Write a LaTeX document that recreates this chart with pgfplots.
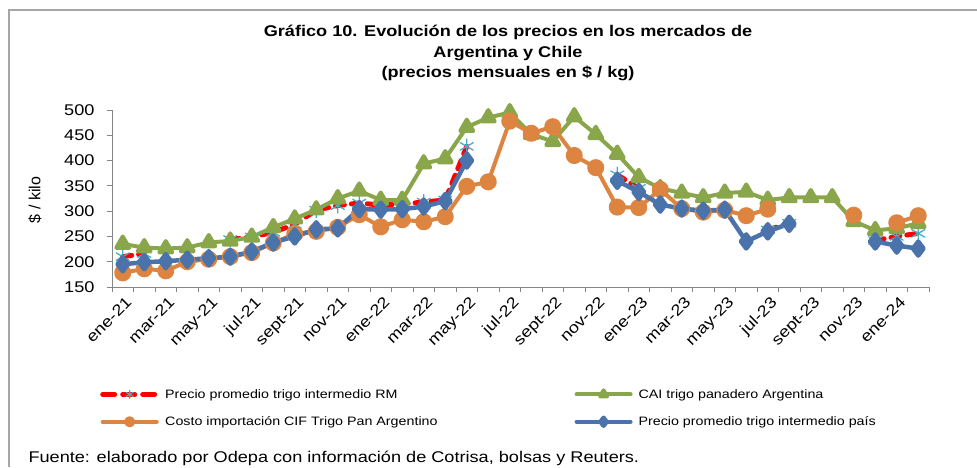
\documentclass[border=0pt]{standalone}
\usepackage{fontspec}
\setmainfont{Liberation Sans}[FakeStretch=1.17]
\newfontfamily\plainfont{Liberation Sans}
\usepackage{pgfplots}
\pgfplotsset{compat=1.18}
\definecolor{cgreen}{HTML}{8AA64A}
\definecolor{corange}{HTML}{DD8440}
\definecolor{cblue}{HTML}{4A73AB}
\definecolor{cast}{HTML}{4BACC6}
\definecolor{cframe}{HTML}{A6A6A6}
\definecolor{axgray}{HTML}{868686}
\begin{document}
\begin{tikzpicture}[x=1pt,y=1pt]
\path[use as bounding box] (0,0) rectangle (977,467);
\draw[cframe, line width=1.5pt] (9,0) -- (9,457) -- (977,457);
\node[align=center, font=\fontsize{15.5}{20.5}\selectfont\bfseries] at (508,414)
  {Gráfico 10. Evolución de los precios en los mercados de\\Argentina y Chile\\(precios mensuales en \$ / kg)};
\node[rotate=90, font=\plainfont\fontsize{16}{19}\selectfont] at (35,267) {\$ / kilo};
\node[anchor=west, font=\fontsize{15.5}{18}\selectfont] at (25,9) {Fuente: elaborado por Odepa con información de Cotrisa, bolsas y Reuters.};
\begin{axis}[
  at={(112pt,180pt)}, anchor=south west,
  scale only axis, width=817pt, height=177pt,
  xmin=-0.5, xmax=37.5, ymin=150, ymax=500,
  axis x line*=bottom, axis y line*=left,
  axis line style={draw=axgray, line width=0.9pt, -},
  xtick={-0.5,0.5,...,37.5},
  x tick label as interval,
  xticklabels={ene-21,,mar-21,,may-21,,jul-21,,sept-21,,nov-21,,ene-22,,mar-22,,may-22,,jul-22,,sept-22,,nov-22,,ene-23,,mar-23,,may-23,,jul-23,,sept-23,,nov-23,,ene-24,},
  ytick={150,200,...,500},
  tick align=outside, major tick length=5pt,
  tick style={draw=axgray, line width=0.9pt},
  /pgf/number format/assume math mode=true,
  tick label style={font=\fontsize{15.5}{18}\selectfont},
  yticklabel style={xshift=-9pt},
  xticklabel style={rotate=45, anchor=north east, inner sep=1pt, yshift=-3pt},
  unbounded coords=jump,
  legend columns=2,
  legend cell align=left,
  legend style={draw=none, fill=none, at={(0,0)}, anchor=north west, xshift=-15pt, yshift=-98pt,
    font=\fontsize{12.2}{14}\selectfont, row sep=13pt,
    /tikz/every odd column/.append style={column sep=4pt},
    /tikz/every even column/.append style={column sep=135pt}},
  every axis plot/.append style={line join=round},
]
% Precio promedio trigo intermedio RM
\addplot[red, line width=5pt, dash pattern=on 9pt off 7pt, line cap=round,
  mark=asterisk, mark size=7.5pt, mark options={cast, solid, line width=1.3pt},
  legend image code/.code={\draw[red, line width=5pt, dash pattern=on 12pt off 8pt, line cap=round] (0pt,0pt) -- (54pt,0pt);
     \path plot[mark=asterisk, mark size=4pt, mark options={cast, solid, line width=1.2pt}] coordinates {(27pt,0pt)};}]
coordinates {
(0,210) (1,216) (2,nan) (3,nan) (4,nan) (5,244) (6,249) (7,258) (8,274) (9,302)
(10,311) (11,316) (12,312) (13,314) (14,318) (15,322) (16,428) (17,nan) (18,nan) (19,nan)
(20,nan) (21,nan) (22,nan) (23,372) (24,345) (25,nan) (26,nan) (27,nan) (28,nan) (29,nan)
(30,263) (31,276) (32,nan) (33,nan) (34,nan) (35,242) (36,250) (37,256)};
\addlegendentry{Precio promedio trigo intermedio RM}
% CAI trigo panadero Argentina
\addplot[cgreen, line width=4pt, mark=triangle*, mark size=7.5pt, mark options={solid},
  legend image code/.code={\draw[cgreen, line width=4pt, line cap=round] (0pt,0pt) -- (54pt,0pt);
     \path plot[mark=triangle*, mark size=4pt, mark options={cgreen, solid}] coordinates {(27pt,0pt)};}]
coordinates {
(0,235) (1,228) (2,226) (3,228) (4,238) (5,241) (6,249) (7,268) (8,285) (9,303)
(10,325) (11,340) (12,322) (13,322) (14,394) (15,404) (16,466) (17,485) (18,495) (19,452)
(20,438) (21,487) (22,452) (23,413) (24,367) (25,345) (26,336) (27,327) (28,336) (29,338)
(30,322) (31,327) (32,327) (33,327) (34,280) (35,262) (36,266) (37,276)};
\addlegendentry{CAI trigo panadero Argentina}
% Costo importación CIF Trigo Pan Argentino
\addplot[corange, line width=4pt, mark=*, mark size=6.5pt, mark options={solid},
  legend image code/.code={\draw[corange, line width=4pt, line cap=round] (0pt,0pt) -- (54pt,0pt);
     \path plot[mark=*, mark size=3.5pt, mark options={corange, solid}] coordinates {(27pt,0pt)};}]
coordinates {
(0,178) (1,186) (2,182) (3,200) (4,205) (5,210) (6,218) (7,237) (8,255) (9,260)
(10,268) (11,293) (12,269) (13,283) (14,279) (15,289) (16,349) (17,358) (18,478) (19,454)
(20,467) (21,410) (22,386) (23,308) (24,307) (25,343) (26,305) (27,298) (28,302) (29,291)
(30,304) (31,nan) (32,nan) (33,nan) (34,292) (35,nan) (36,277) (37,291)};
\addlegendentry{Costo importación CIF Trigo Pan Argentino}
% Precio promedio trigo intermedio país
\addplot[cblue, line width=4.5pt, mark=diamond*, mark size=7pt, mark options={solid},
  legend image code/.code={\draw[cblue, line width=4pt, line cap=round] (0pt,0pt) -- (54pt,0pt);
     \path plot[mark=diamond*, mark size=4pt, mark options={cblue, solid}] coordinates {(27pt,0pt)};}]
coordinates {
(0,195) (1,199) (2,201) (3,204) (4,207) (5,210) (6,220) (7,238) (8,250) (9,264)
(10,266) (11,304) (12,303) (13,304) (14,309) (15,320) (16,400) (17,nan) (18,nan) (19,nan)
(20,nan) (21,nan) (22,nan) (23,360) (24,338) (25,313) (26,305) (27,301) (28,303) (29,240)
(30,260) (31,275) (32,nan) (33,nan) (34,nan) (35,240) (36,232) (37,226)};
\addlegendentry{Precio promedio trigo intermedio país}
\end{axis}
\end{tikzpicture}
\end{document}
